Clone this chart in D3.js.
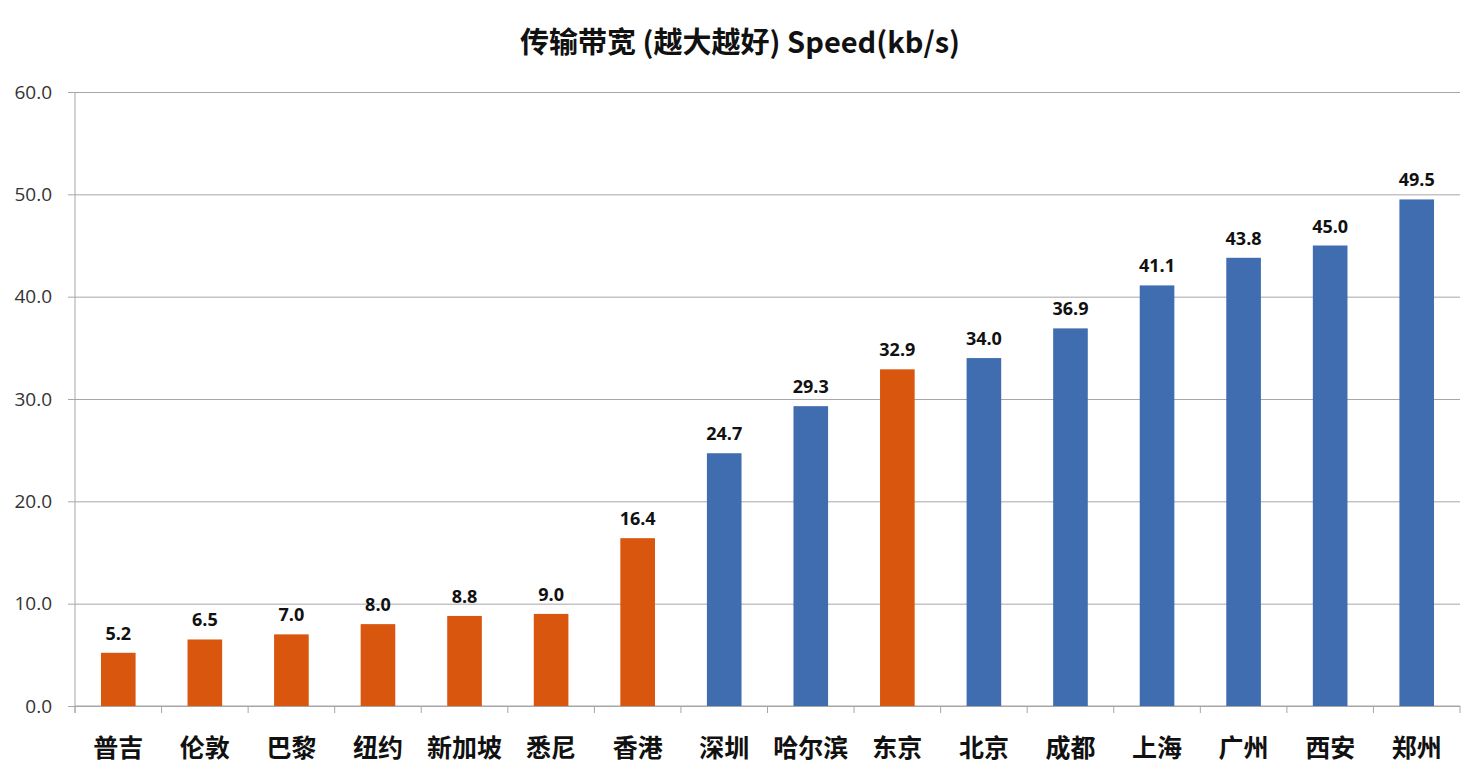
<!DOCTYPE html>
<html>
<head>
<meta charset="utf-8">
<script src="https://cdn.jsdelivr.net/npm/d3@7"></script>
<style>
  body { margin: 0; background: #fff; }
  svg { display: block; }
</style>
</head>
<body>
<svg id="chart" width="1483" height="781"></svg>
<script>
// data
var cities = ["普吉", "伦敦", "巴黎", "纽约", "新加坡", "悉尼", "香港", "深圳", "哈尔滨", "东京", "北京", "成都", "上海", "广州", "西安", "郑州"];
var speeds = [5.2, 6.5, 7.0, 8.0, 8.8, 9.0, 16.4, 24.7, 29.3, 32.9, 34.0, 36.9, 41.1, 43.8, 45.0, 49.5];
var abroad = [true, true, true, true, true, true, true, false, false, true, false, false, false, false, false, false];
var yTicks = [0, 10, 20, 30, 40, 50, 60];

var svg = d3.select("svg#chart"),
    margin = {top: 92, left: 75, bottom: 75, right: 23},
    width = +svg.attr("width"),
    height = +svg.attr("height");

var orange = "#d9560f", blue = "#3f6db0";

var x = d3.scaleBand()
  .domain(cities)
  .range([margin.left, width - margin.right])
  .paddingInner(0.6)
  .paddingOuter(0.3);

var y = d3.scaleLinear()
  .domain([0, 60])
  .range([height - margin.bottom, margin.top]);

// gridlines + y labels
var yAxis = svg.append("g")
  .attr("transform", translate(margin.left, 0))
  .call(d3.axisLeft(y).tickValues(yTicks).tickFormat(d3.format(".1f")).tickSize(-(width - margin.right - margin.left)).tickPadding(23));
yAxis.select(".domain").remove();
yAxis.selectAll(".tick line").attr("stroke", "#a6a6a6").attr("x1", -7);
yAxis.selectAll(".tick text")
  .attr("fill", "#333")
  .style("font-family", "'Open Sans', 'Liberation Sans', sans-serif")
  .style("font-size", "19px");

// left axis line
svg.append("line")
  .attr("x1", margin.left).attr("x2", margin.left)
  .attr("y1", margin.top).attr("y2", y(0) + 7)
  .attr("stroke", "#a6a6a6");

// bottom axis with ticks between categories
var bounds = d3.range(cities.length + 1).map(i => margin.left + i * (width - margin.right - margin.left) / cities.length);
svg.append("line")
  .attr("x1", margin.left).attr("x2", width - margin.right)
  .attr("y1", y(0)).attr("y2", y(0))
  .attr("stroke", "#a6a6a6");
svg.selectAll(".xtick")
  .data(bounds)
  .enter().append("line")
  .attr("class", "xtick")
  .attr("x1", d => d).attr("x2", d => d)
  .attr("y1", y(0)).attr("y2", y(0) + 7)
  .attr("stroke", "#a6a6a6");

// bars
svg.selectAll("rect.bar")
  .data(cities)
  .enter().append("rect")
  .attr("class", "bar")
  .attr("x", d => x(d))
  .attr("width", x.bandwidth())
  .attr("y", (d, i) => y(speeds[i]))
  .attr("height", (d, i) => y(0) - y(speeds[i]))
  .attr("fill", (d, i) => abroad[i] ? orange : blue);

// value labels
svg.selectAll("text.val")
  .data(cities)
  .enter().append("text")
  .attr("class", "val")
  .attr("text-anchor", "middle")
  .attr("x", d => x(d) + x.bandwidth() / 2)
  .attr("y", (d, i) => y(speeds[i]) - 13)
  .style("font-family", "'Open Sans', 'Liberation Sans', sans-serif")
  .style("font-weight", "bold")
  .style("font-size", "18px")
  .attr("fill", "#111")
  .text((d, i) => d3.format(".1f")(speeds[i]));

// category labels
svg.selectAll("text.cat")
  .data(cities)
  .enter().append("text")
  .attr("class", "cat")
  .attr("text-anchor", "middle")
  .attr("x", d => x(d) + x.bandwidth() / 2)
  .attr("y", y(0) + 51)
  .style("font-family", "'Noto Sans CJK SC', sans-serif")
  .style("font-weight", "bold")
  .style("font-size", "25px")
  .attr("fill", "#111")
  .text(d => d);

// title
svg.append("text")
  .attr("x", 740)
  .attr("y", 53)
  .attr("text-anchor", "middle")
  .style("font-family", "'Noto Sans CJK SC', sans-serif")
  .style("font-weight", "bold")
  .style("font-size", "29px")
  .attr("fill", "#111")
  .text("传输带宽 (越大越好) Speed(kb/s)");

/*
 * returns a translate string for the transform attribute
 */
function translate(x, y) {
  return 'translate(' + String(x) + ',' + String(y) + ')';
}
</script>
</body>
</html>
